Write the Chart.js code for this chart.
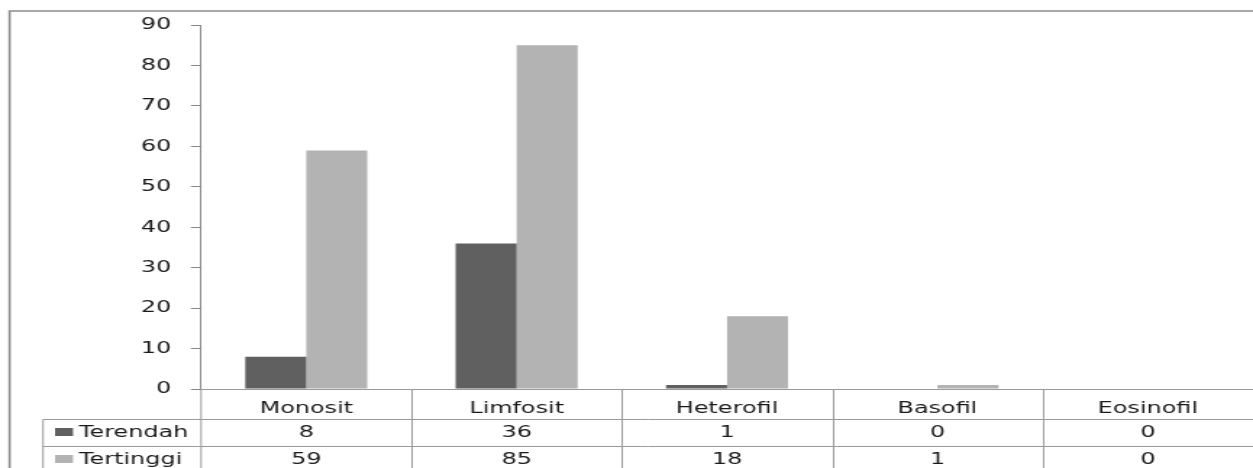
<!DOCTYPE html>
<html>
<head>
<meta charset="utf-8">
<script src="https://cdn.jsdelivr.net/npm/chart.js@4.4.1/dist/chart.umd.min.js"></script>
<style>
  html, body { margin: 0; padding: 0; background: #fff; overflow: hidden; }
  #wrap { width: 865px; height: 468px; transform: scaleX(1.448555); transform-origin: 0 0; }
</style>
</head>
<body>
<div id="wrap"><canvas id="c" width="865" height="468"></canvas></div>
<script>
const categories = ['Monosit', 'Limfosit', 'Heterofil', 'Basofil', 'Eosinofil'];
const terendah = [8, 36, 1, 0, 0];
const tertinggi = [59, 85, 18, 1, 0];
const seriesNames = ['Terendah', 'Tertinggi'];
const yTicks = { min: 0, max: 90, step: 10 };

const DARK = '#606060', LIGHT = '#b3b3b3', LINE = '#9a9a9a', TEXT = '#1a1a1a';
const FONT = '"DejaVu Sans", sans-serif';
const FS = 16.5;
const TABLE_LEFT = 29.7;

const frame = {
  id: 'frame',
  beforeDraw(chart) {
    const ctx = chart.ctx;
    ctx.save();
    ctx.strokeStyle = '#8c8c8c';
    ctx.lineWidth = 1.6;
    ctx.beginPath();
    ctx.moveTo(6.6, chart.height);
    ctx.lineTo(6.6, 11);
    ctx.lineTo(chart.width, 11);
    ctx.stroke();
    ctx.restore();
  }
};

const table = {
  id: 'dataTable',
  afterDraw(chart) {
    const ctx = chart.ctx;
    const { left, right, bottom } = chart.chartArea;
    const x = chart.scales.x;
    const n = categories.length;
    const r1 = 419.5, r2 = 446.5, end = chart.height;
    ctx.save();
    ctx.strokeStyle = LINE;
    ctx.lineWidth = 1;
    const ln = (a, b, c, d) => { ctx.beginPath(); ctx.moveTo(a, b); ctx.lineTo(c, d); ctx.stroke(); };
    ln(TABLE_LEFT, r1, right, r1);
    ln(TABLE_LEFT, r2, right, r2);
    ln(TABLE_LEFT, r1, TABLE_LEFT, end);
    ln(left, bottom, left, end);
    for (let i = 1; i < n; i++) {
      const bx = Math.round((x.getPixelForValue(i - 1) + x.getPixelForValue(i)) / 2) + 0.5;
      ln(bx, bottom, bx, end);
    }
    const rows = [terendah, tertinggi];
    const colors = [DARK, LIGHT];
    const centers = [433, 460];
    ctx.font = FS + 'px ' + FONT;
    ctx.textBaseline = 'middle';
    rows.forEach((vals, r) => {
      const cy = centers[r];
      ctx.fillStyle = colors[r];
      ctx.fillRect(38, cy - 5, 12.4, 8);
      ctx.fillStyle = TEXT;
      ctx.textAlign = 'left';
      ctx.fillText(seriesNames[r], 54.5, cy);
      ctx.textAlign = 'center';
      vals.forEach((v, i) => ctx.fillText(String(v), x.getPixelForValue(i), cy));
    });
    ctx.restore();
  }
};

new Chart(document.getElementById('c'), {
  type: 'bar',
  data: {
    labels: categories,
    datasets: [
      { label: seriesNames[0], data: terendah, backgroundColor: DARK, categoryPercentage: 0.58, barPercentage: 1 },
      { label: seriesNames[1], data: tertinggi, backgroundColor: LIGHT, categoryPercentage: 0.58, barPercentage: 1 }
    ]
  },
  options: {
    responsive: false,
    animation: false,
    devicePixelRatio: 1,
    layout: { padding: { top: 25, left: 0, right: 0, bottom: 0 } },
    plugins: { legend: { display: false }, tooltip: { enabled: false } },
    scales: {
      x: {
        grid: { display: false },
        border: { display: true, color: LINE, width: 1 },
        ticks: { color: TEXT, font: { family: FONT, size: FS }, padding: 2, maxRotation: 0 },
        afterFit(s) { s.height = 79; }
      },
      y: {
        min: yTicks.min, max: yTicks.max,
        grid: { drawOnChartArea: false, drawTicks: true, tickLength: 7, color: '#888' },
        border: { display: true, color: '#888', width: 1 },
        ticks: { stepSize: yTicks.step, color: TEXT, font: { family: FONT, size: FS }, padding: 13.5 },
        afterFit(s) { s.width = 138.8; }
      }
    }
  },
  plugins: [frame, table]
});
</script>
</body>
</html>
